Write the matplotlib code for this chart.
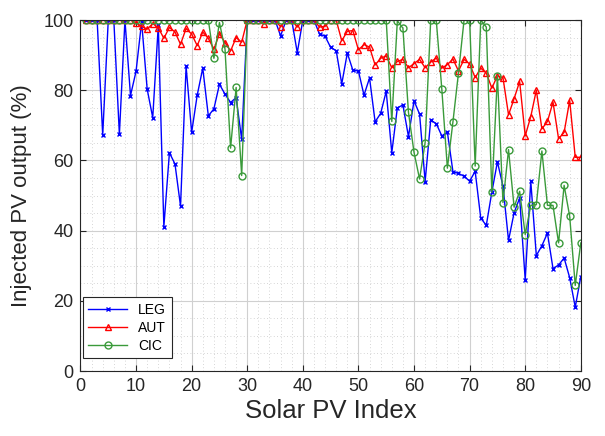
import matplotlib
matplotlib.use("Agg")
import matplotlib.pyplot as plt
import numpy as np
from matplotlib.ticker import MultipleLocator

plt.rcParams['font.family'] = ['Liberation Sans', 'DejaVu Sans']

# Solar PV index 1..90
pv_index = np.arange(1, 91)

leg = [100, 100, 100, 67.2, 100, 100, 67.4, 100, 78.5, 85.4,
       99.5, 80.3, 72.2, 98.5, 41.1, 62.2, 59.0, 47.0, 86.8, 68.0,
       78.6, 86.3, 72.7, 74.7, 81.7, 78.9, 76.5, 77.9, 66.0, 100,
       100, 100, 100, 100, 100, 95.5, 100, 100, 90.7, 100,
       100, 100, 96.0, 95.4, 92.2, 91.3, 81.8, 90.6, 85.7, 85.5,
       78.6, 83.5, 71.0, 73.4, 79.7, 62.2, 75.0, 75.8, 66.8, 77.0,
       73.2, 54.0, 71.5, 70.5, 67.0, 68.1, 56.8, 56.3, 55.5, 54.1,
       56.9, 43.6, 41.5, 51.0, 59.6, 52.7, 37.2, 45.1, 49.3, 26.0,
       54.1, 32.9, 35.7, 39.3, 29.2, 30.2, 32.2, 26.6, 18.2, 26.9]

aut = [100, 100, 100, 100, 100, 100, 100, 100, 100, 99.2,
       98.2, 97.4, 99.0, 97.8, 94.8, 97.9, 96.6, 93.1, 97.6, 96.0,
       92.7, 96.6, 94.8, 91.7, 96.1, 93.6, 91.2, 95.0, 93.7, 100,
       100, 100, 98.9, 100, 100, 98.1, 100, 100, 98.0, 100,
       100, 100, 98.0, 98.2, 100, 100, 94.1, 96.8, 97.0, 91.5,
       93.0, 92.3, 87.2, 89.1, 89.8, 86.4, 88.2, 88.8, 86.4, 87.6,
       88.8, 86.4, 88.0, 89.2, 86.3, 87.3, 88.9, 85.5, 88.8, 87.5,
       83.6, 86.3, 84.9, 80.6, 84.1, 83.6, 73.0, 77.6, 82.5, 67.0,
       72.5, 80.0, 69.0, 71.1, 76.6, 66.2, 68.0, 77.1, 60.9, 60.9]

cic = [100, 100, 100, 100, 100, 100, 100, 100, 100, 100,
       100, 100, 100, 100, 100, 100, 100, 100, 100, 100,
       100, 100, 100, 89.1, 99.3, 91.7, 63.5, 80.8, 55.7, 100,
       100, 100, 100, 100, 100, 100, 100, 100, 100, 100,
       100, 100, 100, 100, 100, 100, 100, 100, 100, 100,
       100, 100, 100, 100, 100, 71.1, 99.8, 97.7, 73.7, 62.3,
       54.7, 65.1, 100, 100, 80.3, 57.8, 71.0, 85.0, 100, 100,
       58.4, 100, 98.0, 50.9, 84.2, 48.0, 63.1, 46.7, 51.2, 38.9,
       47.2, 47.4, 62.7, 47.2, 47.2, 36.5, 52.9, 44.1, 24.4, 36.5]

fig = plt.figure(figsize=(6.05, 4.36), dpi=100)
ax = fig.add_axes([0.133, 0.149, 0.827, 0.805])

ax.plot(pv_index, leg, color="#0000ff", linewidth=1.0, marker="x",
        markersize=3.5, label="LEG")
ax.plot(pv_index, aut, color="#ff0000", linewidth=1.0, marker="^",
        markersize=5, markerfacecolor="none", label="AUT")
ax.plot(pv_index, cic, color="#3a9a3a", linewidth=1.0, marker="o",
        markersize=5, markerfacecolor="none", label="CIC")

ax.set_xlim(0, 90)
ax.set_ylim(0, 100)
ax.xaxis.set_major_locator(MultipleLocator(10))
ax.xaxis.set_minor_locator(MultipleLocator(2))
ax.yaxis.set_major_locator(MultipleLocator(20))
ax.yaxis.set_minor_locator(MultipleLocator(5))

ax.grid(which="major", color="#d0d0d0", linewidth=0.8, linestyle="-")
ax.grid(which="minor", color="#c8c8c8", linewidth=0.6, linestyle=(0, (1, 3)))
ax.set_axisbelow(True)

ax.tick_params(which="major", direction="in", length=4, labelsize=13,
               colors="#262626", top=True, right=True, pad=5)
ax.tick_params(which="minor", length=0)
for s in ax.spines.values():
    s.set_color("#262626")
    s.set_linewidth(0.8)

ax.set_xlabel("Solar PV Index", fontsize=18.5, color="#262626", labelpad=3)
ax.set_ylabel("Injected PV output (%)", fontsize=16, color="#262626",
              labelpad=8)

leg_box = ax.legend(loc="lower left", fontsize=10, fancybox=False,
                    edgecolor="#262626", framealpha=1, handlelength=2.8,
                    borderpad=0.4, labelspacing=0.3, borderaxespad=0.15,
                    bbox_to_anchor=(0.0, 0.03))
leg_box.get_frame().set_linewidth(0.8)

plt.savefig("out.png", dpi=100)
